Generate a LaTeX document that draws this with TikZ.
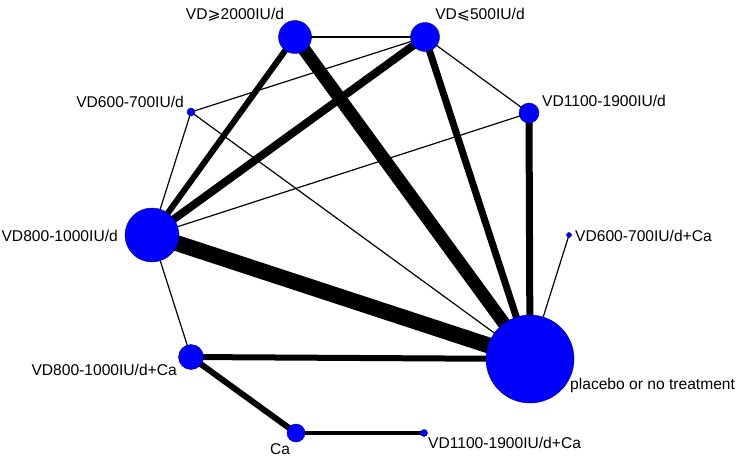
\documentclass[tikz,border=0pt]{standalone}
\usepackage{fontspec}
\setmainfont{Liberation Sans}
\newfontfamily\symfont{DejaVu Sans}
\usetikzlibrary{backgrounds}
\begin{document}
\begin{tikzpicture}[x=1pt,y=-1pt,
  trt/.style={circle,fill=blue,draw=blue!55!black,line width=0.4pt,inner sep=0pt,minimum size=#1},
  lbl/.style={font=\fontsize{15.6}{18}\selectfont,inner sep=0pt},
  ew/.style={line width=#1,line cap=butt}]
\useasboundingbox (0,0) rectangle (744,460);
% treatments
\node[trt=33pt] (d2000) at (295,37) {};
\node[trt=29pt] (d500) at (425,37) {};
\node[trt=20pt] (d1100) at (529,113) {};
\node[trt=8pt] (d600) at (191,112) {};
\node[trt=54pt] (d800) at (152,235) {};
\node[trt=5pt] (d600ca) at (569,235) {};
\node[trt=88pt] (plac) at (530,359) {};
\node[trt=25pt] (d800ca) at (191,357) {};
\node[trt=18pt] (ca) at (296,433) {};
\node[trt=7pt] (d1100ca) at (424,433) {};
% labels
\node[lbl] (l2000) at (235,15) {VD{\symfont ⩾}2000IU/d};
\node[lbl] (l500) at (480,15) {VD{\symfont ⩽}500IU/d};
\node[lbl,anchor=west] (l1100) at (542,101) {VD1100-1900IU/d};
\node[lbl,anchor=east] (l600) at (184,102) {VD600-700IU/d};
\node[lbl,anchor=east] (l800) at (118,236) {VD800-1000IU/d};
\node[lbl,anchor=west] (l600ca) at (575,236) {VD600-700IU/d+Ca};
\node[lbl,anchor=west] (lplac) at (570,385) {placebo or no treatment};
\node[lbl,anchor=east] (l800ca) at (177,370) {VD800-1000IU/d+Ca};
\node[lbl] (lca) at (280,449) {Ca};
\node[lbl,anchor=west] (l1100ca) at (428,443) {VD1100-1900IU/d+Ca};
% connections
\begin{scope}[on background layer]
\draw[ew=1.2pt] (d2000.center) -- (d500.center);
\draw[ew=1.2pt] (d500.center) -- (d1100.center);
\draw[ew=1.2pt] (d600.center) -- (d500.center);
\draw[ew=1.2pt] (d600.center) -- (d800.center);
\draw[ew=1.2pt] (d600.center) -- (plac.center);
\draw[ew=1.2pt] (d800.center) -- (d1100.center);
\draw[ew=1.2pt] (d800.center) -- (d800ca.center);
\draw[ew=1.2pt] (d600ca.center) -- (plac.center);
\draw[ew=7pt] (d1100.center) -- (plac.center);
\draw[ew=7pt] (d500.center) -- (plac.center);
\draw[ew=13pt] (d2000.center) -- (plac.center);
\draw[ew=6pt] (d800.center) -- (d2000.center);
\draw[ew=8pt] (d800.center) -- (d500.center);
\draw[ew=16pt] (d800.center) -- (plac.center);
\draw[ew=6pt] (d800ca.center) -- (plac.center);
\draw[ew=6pt] (d800ca.center) -- (ca.center);
\draw[ew=4pt] (ca.center) -- (d1100ca.center);
\end{scope}
\end{tikzpicture}
\end{document}
